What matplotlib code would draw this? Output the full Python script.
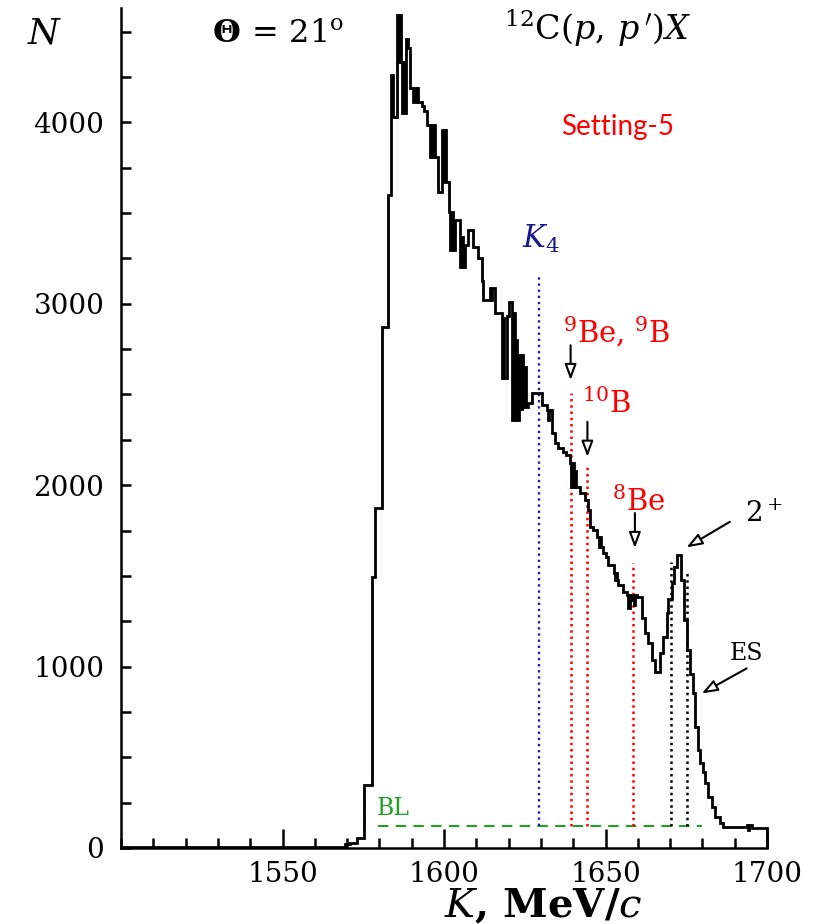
import numpy as np
import matplotlib
matplotlib.use("Agg")
import matplotlib.pyplot as plt
from matplotlib.ticker import MultipleLocator

plt.rcParams['font.family'] = ['DejaVu Serif']
plt.rcParams['mathtext.fontset'] = 'dejavuserif'

# spectrum, bin edges (MeV/c) and counts; alternating values = unresolved fluctuations
edges = [1500, 1569.5, 1571, 1573, 1575.2, 1577.6, 1578.6, 1580.7, 1582.6, 1583.5,
         1584.3, 1585.4, 1585.8, 1586.2, 1586.6, 1587.0, 1587.4, 1587.8, 1588.2, 1588.9,
         1589.6, 1590.5, 1590.9, 1591.3, 1591.7, 1592.1, 1593.1, 1593.8, 1594.6, 1595.7,
         1596.1, 1596.5, 1596.9, 1597.3, 1598.2, 1599.3, 1599.7, 1600.1, 1600.5, 1601.6,
         1602.0, 1602.4, 1602.8, 1603.4, 1605.0, 1605.4, 1605.8, 1606.5, 1607.5, 1609.1,
         1610.6, 1611.7, 1612.2, 1614.2, 1614.6, 1615.0, 1615.8, 1617.9, 1618.3, 1618.7,
         1619.4, 1620.2, 1621.1, 1621.5, 1621.9, 1622.3, 1622.7, 1623.1, 1623.5, 1624.1,
         1624.5, 1624.9, 1625.3, 1626.1, 1627.1, 1630.2, 1631.8, 1632.2, 1632.6, 1633.3,
         1634.4, 1635.4, 1636.9, 1637.9, 1639.0, 1639.4, 1639.8, 1640.2, 1640.6, 1641.0,
         1642.1, 1643.7, 1644.7, 1645.2, 1646.2, 1647.5, 1647.9, 1648.3, 1648.7, 1649.3,
         1650.1, 1650.9, 1652.5, 1652.9, 1653.3, 1653.7, 1654.0, 1655.5, 1656.6, 1657.0,
         1657.6, 1658.0, 1658.4, 1658.8, 1659.2, 1659.6, 1661.2, 1662.2, 1663.3, 1664.3,
         1665.3, 1666.9, 1667.9, 1668.9, 1669.4, 1670.5, 1671.2, 1672.0, 1673.3, 1674.3,
         1675.1, 1676.2, 1677.2, 1677.7, 1678.7, 1679.3, 1680.3, 1680.8, 1681.8, 1682.9,
         1683.9, 1685.4, 1686.5, 1693.7, 1694.1, 1694.5, 1695.3, 1700.0]
counts = [5, 20, 30, 55, 347, 1493, 1873, 2870, 3598,
          4259, 4028, 4590, 4331, 4590, 4331, 4050, 4331, 4050, 4457,
          4408, 4187, 4110, 4187, 4110, 4187, 4110, 4090, 4060, 3983,
          3807, 3983, 3807, 3983, 3807, 3614, 3956, 3669, 3956, 3669,
          3504, 3295, 3504, 3295, 3460, 3201, 3366, 3201, 3322, 3405,
          3311, 3250, 3128, 3019, 3085, 3019, 3085, 2948, 2590, 2920,
          2590, 2930, 3008, 2358, 2948, 2358, 2800, 2358, 2716, 2420,
          2716, 2430, 2650, 2430, 2452, 2507, 2441, 2413, 2358, 2413,
          2287, 2231, 2204, 2182, 2165, 2121, 1989, 2121, 1989, 2080,
          1989, 1956, 1917, 1862, 1769, 1752, 1713, 1658, 1713, 1658,
          1625, 1603, 1560, 1515, 1477, 1515, 1477, 1449, 1410, 1394,
          1322, 1394, 1366, 1394, 1340, 1394, 1383, 1267, 1185, 1129,
          1036, 970, 1074, 1163, 1294, 1370, 1460, 1548, 1614, 1477,
          1256, 1091, 960, 854, 667, 540, 468, 419, 358, 281,
          226, 171, 138, 116, 127, 99, 127, 110]

# marker lines: position, top
k4 = (1629.4, 3157)
red_lines = [(1639.2, 2509), (1644.4, 2100), (1658.4, 1570)]
black_lines = [(1670.2, 1577), (1675.1, 1532)]
bl_level, bl_from, bl_to = 123, 1579.5, 1680

fig = plt.figure(figsize=(8.13, 9.24), dpi=100)
ax = fig.add_axes([121/813, 76/924, 646/813, 840/924])

ax.stairs(counts, edges, baseline=0, color='black', lw=2.0, clip_on=False, zorder=5)

ax.hlines(bl_level, bl_from, bl_to, colors='#22a022', lw=1.5, linestyles=(0, (5, 3.5)), zorder=3)
ax.vlines(k4[0], bl_level, k4[1], colors='#1e1e9e', lw=1.7, linestyles=(0, (1, 1.6)), zorder=3)
for x, top in red_lines:
    ax.vlines(x, bl_level, top, colors='red', lw=1.8, linestyles=(0, (1, 1.5)), zorder=3)
for x, top in black_lines:
    ax.vlines(x, bl_level, top, colors='black', lw=1.8, linestyles=(0, (1, 1.5)), zorder=3)

# annotations
arrow = dict(arrowstyle='-|>,head_length=0.95,head_width=0.35', facecolor='white',
             edgecolor='black', lw=1.5, shrinkA=0, shrinkB=0)
ax.annotate('', xy=(1639.2, 2579), xytext=(1639.2, 2771), arrowprops=arrow)
ax.annotate('', xy=(1644.4, 2156), xytext=(1644.4, 2349), arrowprops=arrow)
ax.annotate('', xy=(1659.1, 1653), xytext=(1659.1, 1846), arrowprops=arrow)
ax.annotate('', xy=(1675.1, 1657), xytext=(1688.5, 1798), arrowprops=arrow)
ax.annotate('', xy=(1679.8, 852), xytext=(1693.7, 990), arrowprops=arrow)

ax.text(1624.1, 3306, r'$K_4$', color='#1a1a8c', fontsize=22, va='baseline')
ax.text(1636.8, 2788, r'$^9$Be, $^9$B', color='red', fontsize=21, va='baseline')
ax.text(1642.7, 2397, r'$^{10}$B', color='red', fontsize=21, va='baseline')
ax.text(1652.0, 1857, r'$^8$Be', color='red', fontsize=21, va='baseline')
ax.text(1693.2, 1796, r'2$^+$', color='black', fontsize=20, va='baseline')
ax.text(1688.5, 1036, 'ES', color='black', fontsize=17, va='baseline')
ax.text(1579.3, 182, 'BL', color='#22a022', fontsize=17, va='baseline')
ax.text(1636.2, 3928, 'Setting-5', color='red', fontsize=20, va='baseline', family='Lato')

ax.set_xlim(1500, 1700)
ax.set_ylim(0, 4630)
ax.spines['top'].set_visible(False)
ax.spines['right'].set_visible(False)
ax.spines['left'].set_linewidth(1.8)
ax.spines['bottom'].set_linewidth(1.8)

ax.set_xticks([1550, 1600, 1650, 1700])
ax.xaxis.set_minor_locator(MultipleLocator(10))
ax.yaxis.set_major_locator(MultipleLocator(1000))
ax.yaxis.set_minor_locator(MultipleLocator(250))
ax.tick_params(axis='x', which='major', direction='in', length=14, width=1.8, pad=9, labelsize=20)
ax.tick_params(axis='x', which='minor', direction='in', length=7.5, width=1.8)
ax.tick_params(axis='y', which='both', direction='in', length=7, width=1.8, pad=12, labelsize=20)

fig.text(45/813, 1 - 34/924, r'$N$', fontsize=26, ha='center', va='center')
fig.text(278/813, 1 - 42/924, r'$\mathbf{\Theta}\,=\,21^{\rm o}$', fontsize=23, ha='center', va='baseline')
fig.text(598/813, 1 - 40/924, r"$^{12}\mathrm{C}(p,\,p\,')X$", fontsize=24, ha='center', va='baseline')
fig.text(543/813, 1 - 917/924, r'$K$, MeV/$c$', fontsize=29, ha='center', va='baseline',
         fontweight='bold')

fig.savefig('out.png', dpi=100)
